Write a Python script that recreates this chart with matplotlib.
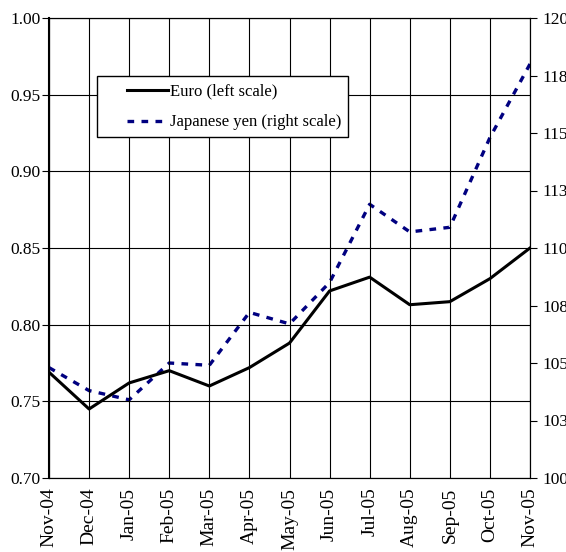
import matplotlib.pyplot as plt
from matplotlib.legend_handler import HandlerLine2D

# Monthly exchange rates, Nov 2004 - Nov 2005
months = ['Nov-04', 'Dec-04', 'Jan-05', 'Feb-05', 'Mar-05', 'Apr-05', 'May-05',
          'Jun-05', 'Jul-05', 'Aug-05', 'Sep-05', 'Oct-05', 'Nov-05']
euro = [0.769, 0.745, 0.762, 0.770, 0.760, 0.772, 0.788,
        0.822, 0.831, 0.813, 0.815, 0.830, 0.850]
yen = [104.8, 103.8, 103.4, 105.0, 104.9, 107.2, 106.7,
       108.5, 111.9, 110.7, 110.9, 114.8, 118.0]

left_ticks = [0.70, 0.75, 0.80, 0.85, 0.90, 0.95, 1.00]
right_ticks = [100, 102.5, 105, 107.5, 110, 112.5, 115, 117.5, 120]
right_labels = ['100', '103', '105', '108', '110', '113', '115', '118', '120']


# legend line drawn with some empty space in front of it (like Excel)
class PadHandler(HandlerLine2D):
    def create_artists(self, legend, orig, xd, yd, w, h, fs, trans):
        pad = 1.38 * fs
        return super().create_artists(legend, orig, xd - pad, yd, w - pad, h, fs, trans)


plt.rcParams['font.family'] = ['Liberation Serif', 'DejaVu Serif']

fig = plt.figure(figsize=(5.66, 5.52), dpi=100)
ax = fig.add_axes([49/566, 1 - 478/552, 481/566, 460/552])
x = range(len(months))

l1, = ax.plot(x, euro, color='black', lw=2.2, zorder=3, label='Euro (left scale)')
ax.set_xlim(0, len(months) - 1)
ax.set_ylim(0.70, 1.00)
ax.set_yticks(left_ticks)
ax.set_yticklabels(['%.2f' % v for v in left_ticks])
ax.set_xticks(list(x))
ax.set_xticklabels(months, rotation=90)
ax.grid(True, color='black', lw=0.8)
ax.tick_params(axis='y', direction='out', length=5, labelsize=12.5, pad=1)
ax.tick_params(axis='x', length=0, labelsize=14, pad=7)
for s in ax.spines.values():
    s.set_color('black')
ax.spines['left'].set_linewidth(1.5)

ax2 = ax.twinx()
l2, = ax2.plot(x, yen, color='#000080', lw=2.4, ls=(0, (2, 2.2)), zorder=3,
               label='Japanese yen (right scale)')
ax2.set_ylim(100, 120)
ax2.set_yticks(right_ticks)
ax2.set_yticklabels(right_labels)
ax2.tick_params(axis='y', direction='out', length=5, labelsize=12.5, pad=4)

leg = ax.legend(handles=[l1, l2], loc='upper left', bbox_to_anchor=(0.10, 0.873),
                borderaxespad=0, fontsize=12, frameon=True, fancybox=False,
                edgecolor='black', framealpha=1, handlelength=3.85, borderpad=0.42,
                labelspacing=0.9, handletextpad=0.1,
                handler_map={l1: PadHandler(), l2: PadHandler()})
leg.get_frame().set_linewidth(1.0)
ax.set_zorder(ax2.get_zorder() + 1)
ax.patch.set_visible(False)

fig.savefig('out.png', dpi=100)
